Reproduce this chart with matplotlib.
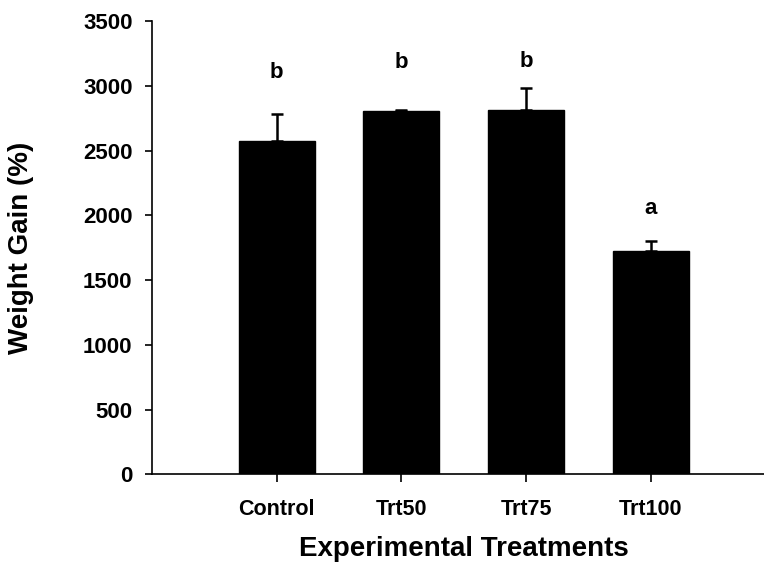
import matplotlib.pyplot as plt

plt.rcParams['font.family'] = ['Liberation Sans', 'DejaVu Sans']
plt.rcParams['font.weight'] = 'bold'

treatments = ["Control", "Trt50", "Trt75", "Trt100"]
weight_gain = [2575, 2805, 2815, 1725]
sem = [205, 12, 172, 80]
letters = ["b", "b", "b", "a"]
letter_y = [3100, 3180, 3185, 2055]
y_ticks = [0, 500, 1000, 1500, 2000, 2500, 3000, 3500]


def plot_weight_gain():
    fig = plt.figure(figsize=(7.64, 5.64), dpi=100)
    ax = fig.add_axes([0.199, 0.1587, 0.816, 0.804])

    x = list(range(1, len(treatments) + 1))
    ax.bar(x, weight_gain, width=0.61, color="black", edgecolor="black", zorder=2)
    ax.errorbar(x, weight_gain, yerr=[[0] * len(sem), sem], fmt="none",
                ecolor="black", elinewidth=1.8, capsize=4.5, capthick=1.8, zorder=1)

    for xi, lab, ly in zip(x, letters, letter_y):
        ax.text(xi, ly, lab, ha="center", va="center", fontsize=16, fontweight="bold")

    ax.set_xlim(0, 5)
    ax.set_ylim(0, 3500)
    ax.set_xticks(x)
    ax.set_xticklabels(treatments, fontsize=15.5, fontweight="bold")
    ax.set_yticks(y_ticks)
    ax.set_yticklabels([str(v) for v in y_ticks], fontsize=16, fontweight="bold")

    ax.spines["top"].set_visible(False)
    ax.spines["right"].set_visible(False)
    for s in ["left", "bottom"]:
        ax.spines[s].set_linewidth(1.2)
    ax.tick_params(axis="y", direction="out", length=5, width=1.2, pad=9)
    ax.tick_params(axis="x", direction="out", length=6, width=1.2, pad=12)

    ax.set_xlabel("Experimental Treatments", fontsize=20, fontweight="bold")
    ax.set_ylabel("Weight Gain (%)", fontsize=20, fontweight="bold")
    ax.xaxis.set_label_coords(0.5, -0.135)
    ax.yaxis.set_label_coords(-0.19, 0.5)

    fig.savefig("out.png", dpi=100)
    plt.close(fig)


if __name__ == "__main__":
    plot_weight_gain()
